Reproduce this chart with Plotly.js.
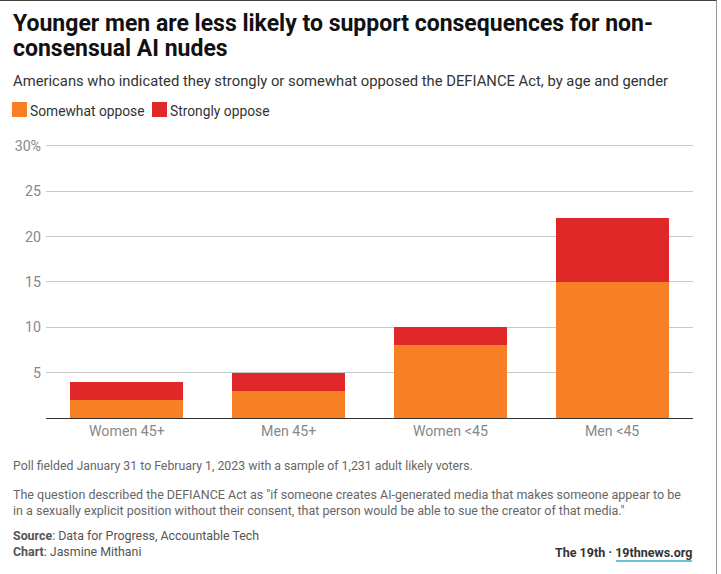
<!DOCTYPE html>
<html><head><meta charset="utf-8">
<script src="https://cdn.plot.ly/plotly-3.0.1.min.js"></script>
<style>
html,body{margin:0;padding:0;background:#fff;}
#wrap{position:relative;width:721px;height:574px;}
#chart{width:721px;height:574px;}
#frame{position:absolute;left:0;top:0;width:717px;height:574px;border-top:1px solid #444;border-right:1px solid #999;pointer-events:none;box-sizing:border-box;}
</style></head>
<body><div id="wrap"><div id="chart"></div><div id="frame"></div></div>
<script>
const categories = ["Women 45+", "Men 45+", "Women <45", "Men <45"];
const seriesNames = ["Somewhat oppose", "Strongly oppose"];
const somewhatOppose = [2, 3, 8, 15];
const stronglyOppose = [2, 2, 2, 7];
const tickValues = [0, 5, 10, 15, 20, 25, 30];
const tickLabels = ["", "5", "10", "15", "20", "25", "30%"];
const colors = ["#F78027", "#E02828"];

const FONT = "Roboto, 'Liberation Sans', sans-serif";
const L = 46, R = 693, T = 144, B = 418;
const W = R - L, H = B - T;
const px = x => (x - L) / W;
const py = y => (B - y) / H;

const data = [
  {type:"bar", name:seriesNames[0], x:categories, y:somewhatOppose, marker:{color:colors[0]}, width:0.7, hoverinfo:"skip"},
  {type:"bar", name:seriesNames[1], x:categories, y:stronglyOppose, marker:{color:colors[1]}, width:0.7, hoverinfo:"skip"}
];

const texts = [
  {t:"<b>Younger men are less likely to support consequences for non-</b>", x:11, y:8, size:23, color:"#111"},
  {t:"<b>consensual AI nudes</b>", x:11, y:33, size:23, color:"#111"},
  {t:"Americans who indicated they strongly or somewhat opposed the DEFIANCE Act, by age and gender", x:11, y:70, size:14.8, color:"#333"},
  {t:seriesNames[0], x:28, y:101, size:13.8, color:"#333"},
  {t:seriesNames[1], x:168, y:101, size:13.8, color:"#333"},
  {t:"Poll fielded January 31 to February 1, 2023 with a sample of 1,231 adult likely voters.", x:11, y:457, size:12.3, color:"#666"},
  {t:"The question described the DEFIANCE Act as \"if someone creates AI-generated media that makes someone appear to be<br>in a sexually explicit position without their consent, that person would be able to sue the creator of that media.\"", x:11, y:485, size:12.5, color:"#666"},
  {t:"<b>Source</b>: Data for Progress, Accountable Tech<br><b>Chart</b>: Jasmine Mithani", x:11, y:526, size:12.4, color:"#555"}
];
const annotations = texts.map(a=>({
  xref:"paper", yref:"paper", showarrow:false, align:"left", xanchor:"left", yanchor:"top",
  x:px(a.x), y:py(a.y), text:a.t, font:{family:FONT, size:a.size, color:a.color}
}));
annotations.push({xref:"paper", yref:"paper", showarrow:false, xanchor:"right", yanchor:"top",
  x:px(694), y:py(543), text:"<b>The 19th · 19thnews.org</b>",
  font:{family:FONT, size:12.5, color:"#333"}});

const shapes = [
  {type:"rect", xref:"paper", yref:"paper", x0:px(12), x1:px(27), y0:py(117), y1:py(102), fillcolor:colors[0], line:{width:0}},
  {type:"rect", xref:"paper", yref:"paper", x0:px(152), x1:px(167), y0:py(117), y1:py(102), fillcolor:colors[1], line:{width:0}},
  {type:"line", xref:"paper", yref:"paper", x0:px(616), x1:px(692), y0:py(561), y1:py(561), line:{color:"#3ab0c8", width:1.5}}
];

const layout = {
  width:721, height:574, barmode:"stack",
  paper_bgcolor:"#fff", plot_bgcolor:"#fff",
  margin:{l:L, r:721-R, t:T, b:574-B},
  font:{family:FONT, color:"#888"},
  showlegend:false,
  xaxis:{tickfont:{family:FONT, size:14.2, color:"#888"}, ticks:"", showline:true, linecolor:"#333", linewidth:1.2, fixedrange:true, automargin:false},
  yaxis:{range:[0,30.2], tickvals:tickValues, ticktext:tickLabels, tickfont:{family:FONT, size:14.2, color:"#888"},
         showgrid:true, gridcolor:"#c8c8c8", gridwidth:1, zeroline:false, ticks:"", ticklen:0, ticklabelstandoff:4, fixedrange:true, automargin:false},
  annotations:annotations,
  shapes:shapes
};
Plotly.newPlot("chart", data, layout, {displayModeBar:false, staticPlot:true});
</script></body></html>
